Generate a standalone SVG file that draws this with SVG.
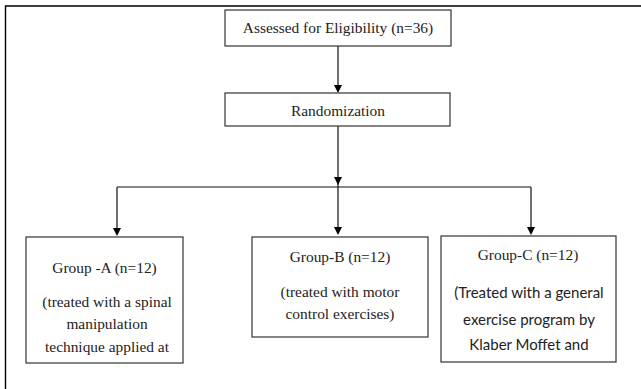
<svg xmlns="http://www.w3.org/2000/svg" width="641" height="389" viewBox="0 0 641 389">
<defs>
<style>
.box{fill:#fff;stroke:#333;stroke-width:1.2}
.con{fill:none;stroke:#111;stroke-width:1.2}
.head{fill:#000}
.serif{font-family:"Liberation Serif","DejaVu Serif",serif;font-size:15.4px;fill:#222;text-anchor:middle}
.sans{font-family:Lato,"Liberation Sans",sans-serif;font-size:15px;fill:#222;text-anchor:middle}
</style>
</defs>
<rect width="641" height="389" fill="#fff"/>
<path d="M5.5,389 V6 H641" fill="none" stroke="#000" stroke-width="1.4"/>
<g id="connectors">
<path class="con" d="M338,46 V85"/>
<path class="head" d="M334,85 H342 L338,93 Z"/>
<path class="con" d="M338,126 V227"/>
<path class="head" d="M334,177 H342 L338,185 Z"/>
<path class="head" d="M334,227 H342 L338,235 Z"/>
<path class="con" d="M117,187 H531"/>
<path class="con" d="M117,187 V228"/>
<path class="head" d="M113,228 H121 L117,236 Z"/>
<path class="con" d="M531,187 V227"/>
<path class="head" d="M527,227 H535 L531,235 Z"/>
</g>
<g id="eligibility">
<rect class="box" x="225" y="10" width="226" height="36"/>
<text class="serif" x="338" y="33">Assessed for Eligibility (n=36)</text>
</g>
<g id="randomization">
<rect class="box" x="225" y="93" width="225" height="33"/>
<text class="serif" x="338" y="116">Randomization</text>
</g>
<g id="groupA">
<rect class="box" x="26" y="237" width="157" height="126"/>
<text class="serif" x="104.5" y="273">Group -A (n=12)</text>
<text class="serif" x="107" y="307">(treated with a spinal</text>
<text class="serif" x="107" y="329">manipulation</text>
<text class="serif" x="107" y="352">technique applied at</text>
</g>
<g id="groupB">
<rect class="box" x="252" y="237" width="176" height="100"/>
<text class="serif" x="340" y="262">Group-B (n=12)</text>
<text class="serif" x="340" y="297">(treated with motor</text>
<text class="serif" x="340" y="319">control exercises)</text>
</g>
<g id="groupC">
<rect class="box" x="441" y="236" width="175" height="126"/>
<text class="serif" x="528" y="260">Group-C (n=12)</text>
<text class="sans" x="529" y="298">(Treated with a general</text>
<text class="sans" x="529" y="325">exercise program by</text>
<text class="sans" x="529" y="350">Klaber Moffet and</text>
</g>
</svg>
